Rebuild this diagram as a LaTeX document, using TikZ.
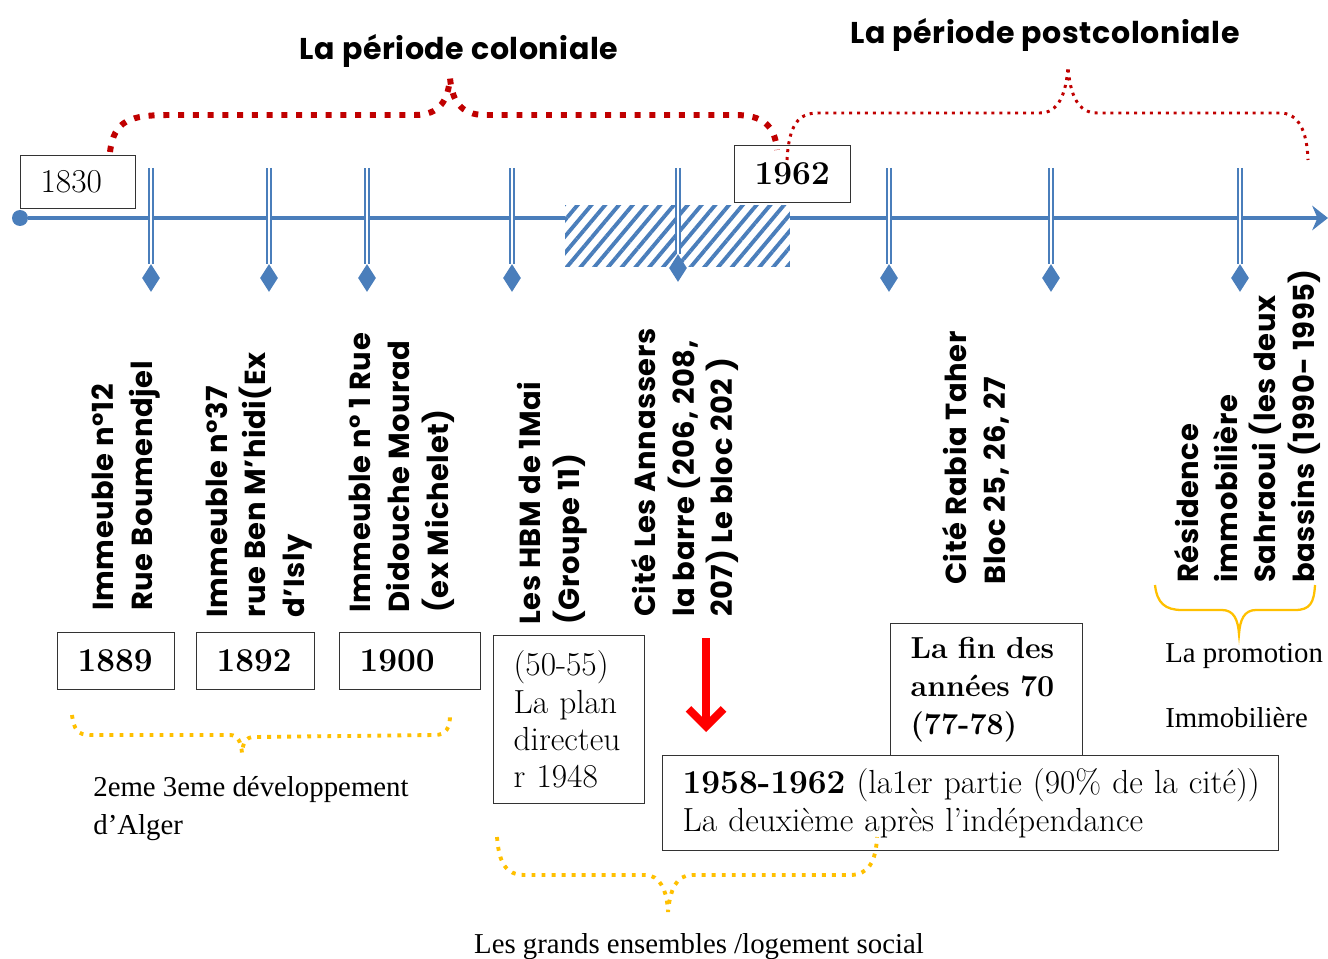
\documentclass[tikz,border=0pt]{standalone}
\usepackage{fontspec}
\newfontfamily\gothic{Poppins}[LetterSpace=2]
\newfontfamily\tnr{Liberation Serif}
\usetikzlibrary{arrows.meta,shapes.geometric,patterns.meta}

\definecolor{axisblue}{HTML}{4A7EBB}
\definecolor{darkred}{HTML}{C00000}
\definecolor{gold}{HTML}{FFC000}

\tikzset{
  datebox/.style={draw=black!80, line width=0.7pt, fill=white, rectangle,
    inner xsep=0.4cm, inner ysep=0pt, align=left, text width=#1,
    minimum height=1.14cm, font=\fontsize{19}{21.3}\selectfont},
  pinline/.style={draw=axisblue, line width=0.9pt, double=white, double distance=1.3pt},
  pinmark/.style={diamond, fill=axisblue, inner sep=0pt,
    minimum width=0.36cm, minimum height=0.56cm},
  sitelabel/.style={rotate=90, anchor=north west, inner sep=0pt, align=left,
    font=\gothic\bfseries\fontsize{16.5}{22}\selectfont},
  periodtitle/.style={anchor=base, inner sep=0pt, font=\gothic\bfseries\fontsize{17.1}{20}\selectfont},
  colobrace/.style={darkred, line width=3.4pt, dash pattern=on 3.4pt off 5pt},
  postbrace/.style={darkred, line width=1.7pt, dash pattern=on 1.7pt off 2.8pt},
  goldbrace/.style={gold, line width=2.2pt, dash pattern=on 2.2pt off 3.5pt},
  notetext/.style={anchor=north west, inner sep=0pt, align=left,
    font=\tnr\fontsize{16.4}{21.5}\selectfont}
}

\begin{document}
\begin{tikzpicture}[x=0.02cm, y=-0.02cm]
    \useasboundingbox (0,0) rectangle (1328,959);

    % time axis
    \node[circle, fill=axisblue, minimum size=0.32cm, inner sep=0pt] (start) at (20,218) {};
    \coordinate (axisend) at (1328,218);
    \draw[axisblue, line width=2.5pt, -{Stealth[length=9pt,width=14pt,inset=3pt]}] (start) -- (axisend);

    % hatched stretch 1950-1962
    \node[rectangle, minimum width=4.5cm, minimum height=1.24cm, inner sep=0pt,
      preaction={fill=white}, pattern={Lines[angle=50,distance=6pt,line width=2.2pt]},
      pattern color=axisblue] (hatch) at (677.5,236) {};

    % pins
    \coordinate (t1) at (151,168);
    \coordinate (t2) at (269,168);
    \coordinate (t3) at (367,168);
    \coordinate (t4) at (512,168);
    \coordinate (t5) at (678,168);
    \coordinate (t6) at (889,168);
    \coordinate (t7) at (1051,168);
    \coordinate (t8) at (1240,168);
    \node[pinmark] (p1) at (151,278) {};
    \node[pinmark] (p2) at (269,278) {};
    \node[pinmark] (p3) at (367,278) {};
    \node[pinmark] (p4) at (512,278) {};
    \node[pinmark] (p5) at (678,268) {};
    \node[pinmark] (p6) at (889,278) {};
    \node[pinmark] (p7) at (1051,278) {};
    \node[pinmark] (p8) at (1240,278) {};
    \draw[pinline] (t1) -- (p1.north);
    \draw[pinline] (t2) -- (p2.north);
    \draw[pinline] (t3) -- (p3.north);
    \draw[pinline] (t4) -- (p4.north);
    \draw[pinline] (t5) -- (p5.north);
    \draw[pinline] (t6) -- (p6.north);
    \draw[pinline] (t7) -- (p7.north);
    \draw[pinline] (t8) -- (p8.north);

    % years on the axis
    \node[datebox=1.5cm, minimum height=1.06cm, anchor=north west] (y1830) at (20,155) {1830};
    \node[datebox=1.52cm, anchor=north west] (y1962) at (734,145) {\bfseries 1962};

    % periods
    \node[periodtitle] (colo) at (459,60) {La période coloniale};
    \node[periodtitle] (postcolo) at (1045,44) {La période postcoloniale};
    \draw[colobrace] (110,152) .. controls (114,120) and (130,115) .. (170,115)
      -- (415,115) .. controls (440,115) and (448,100) .. (450,78)
      .. controls (452,100) and (460,115) .. (485,115)
      -- (735,115) .. controls (762,115) and (775,125) .. (777,150);
    \draw[postbrace] (787,160) .. controls (789,125) and (798,113) .. (818,113)
      -- (1040,113) .. controls (1058,113) and (1066,95) .. (1068,67)
      .. controls (1070,95) and (1078,113) .. (1097,113)
      -- (1280,113) .. controls (1298,113) and (1307,130) .. (1308,160);

    % sites
    \node[sitelabel] (s1) at (92,611) {Immeuble n°12\\Rue Boumendjel};
    \node[sitelabel] (s2) at (205,618) {Immeuble n°37\\rue Ben M’hidi(Ex\\d’Isly};
    \node[sitelabel] (s3) at (349,613) {Immeuble n° 1 Rue\\Didouche Mourad\\(ex Michelet)};
    \node[sitelabel] (s4) at (517,625) {Les HBM de  1Mai\\(Groupe 11)};
    \node[sitelabel] (s5) at (631,617) {Cité Les Annassers\\la barre (206, 208,\\207) Le bloc 202 )};
    \node[sitelabel] (s6) at (942,585) {Cité  Rabia Taher\\Bloc 25, 26, 27};
    \node[sitelabel] (s7) at (1174,583) {Résidence\\immobilière\\Sahraoui (les deux\\bassins (1990- 1995)};

    % dates under the sites
    \node[datebox=1.54cm, anchor=north west] (y1889) at (57,632) {\bfseries 1889};
    \node[datebox=1.56cm, anchor=north west] (y1892) at (196,632) {\bfseries 1892};
    \node[datebox=2.02cm, anchor=north west] (y1900) at (339,632) {\bfseries 1900};
    \node[datebox=2.22cm, minimum height=3.36cm, anchor=north west] (plan) at (493,635)
      {(50-55)\\La plan\\directeu\\r 1948};
    \node[datebox=3.04cm, minimum height=2.64cm, anchor=north west,
      font=\fontsize{17.3}{21.6}\selectfont\bfseries] (fin) at (890,623)
      {\mbox{La fin des}\\\mbox{années 70}\\(77-78)};
    \node[datebox=11.52cm, minimum height=1.9cm, anchor=north west] (deux) at (662,755)
      {\mbox{\textbf{1958-1962} (la1er partie (90\% de la cité))}\\\mbox{La deuxième après l’indépendance}};

    % red arrow
    \coordinate (arrtop) at (706,638);
    \coordinate (arrbot) at (706,732);
    \draw[red, line width=4.5pt, -{Straight Barb[length=10pt,width=20pt]}] (arrtop) -- (arrbot);

    % groups
    \draw[goldbrace] (72,715) .. controls (74,730) and (78,735) .. (90,735)
      -- (230,735) .. controls (238,735) and (241,742) .. (242,753)
      .. controls (243,742) and (246,737) .. (254,737)
      -- (435,735) .. controls (446,735) and (450,728) .. (450,715);
    \node[notetext] (dev) at (93,776) {2eme 3eme développement\\d’Alger};

    \draw[goldbrace] (497,837) .. controls (499,862) and (505,875) .. (525,875)
      -- (645,875) .. controls (660,875) and (667,890) .. (668,912)
      .. controls (670,890) and (676,875) .. (692,875)
      -- (850,875) .. controls (868,875) and (876,862) .. (877,837);
    \node[notetext, anchor=base] (social) at (699,953) {Les grands ensembles /logement social};

    \draw[gold, line width=1.3pt] (1155,585) .. controls (1157,603) and (1165,610) .. (1182,610)
      -- (1222,610) .. controls (1234,610) and (1238,620) .. (1239,634)
      .. controls (1240,620) and (1244,610) .. (1256,610)
      -- (1295,610) .. controls (1310,610) and (1314,603) .. (1315,585);
    \node[notetext, anchor=base west] (promo) at (1165,662) {La promotion};
    \node[notetext, anchor=base west] (immo) at (1165,727) {Immobilière};
  \end{tikzpicture}
\end{document}
